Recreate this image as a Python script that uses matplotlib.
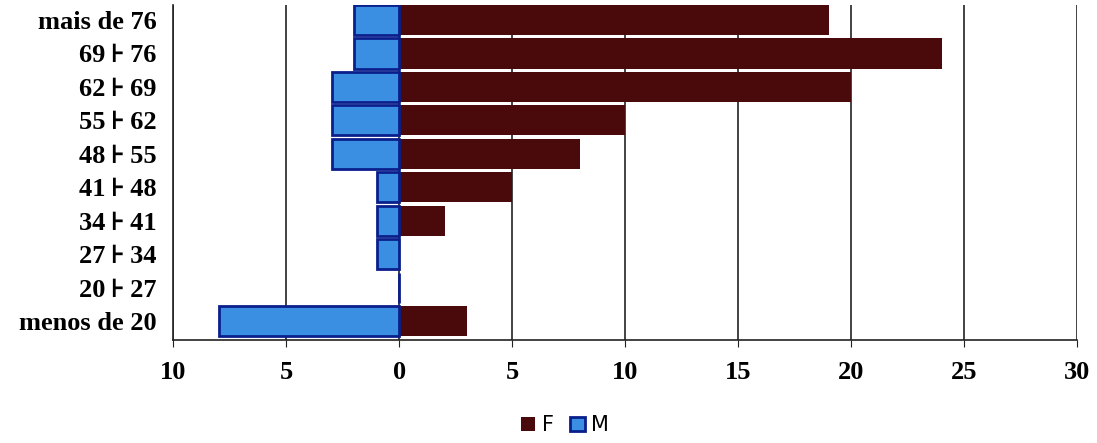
import numpy as np
import matplotlib.pyplot as plt

# Faixas etárias (de baixo para cima)
faixas = ["menos de 20", "20\u2009⊦\u200927", "27\u2009⊦\u200934", "34\u2009⊦\u200941",
          "41\u2009⊦\u200948", "48\u2009⊦\u200955", "55\u2009⊦\u200962",
          "62\u2009⊦\u200969", "69\u2009⊦\u200976", "mais de 76"]
feminino = [3, 0, 0, 2, 5, 8, 10, 20, 24, 19]
masculino = [8, 0, 1, 1, 1, 3, 3, 3, 2, 2]
xticks = [-10, -5, 0, 5, 10, 15, 20, 25, 30]

fonte = ["Liberation Serif", "DejaVu Sans"]

fig = plt.figure(figsize=(10.97, 4.43), dpi=100)
ax = fig.add_axes([0.158, 0.233, 0.824, 0.756])

y = np.arange(len(faixas))
ax.barh(y, feminino, height=0.9, color="#4a0a0c", label="F", zorder=3)
ax.barh(y, -np.array(masculino), height=0.9, color="#3a8fe3",
        edgecolor="#0a1f8c", linewidth=2, label="M", zorder=3)

ax.set_xlim(-10, 30)
ax.set_ylim(-0.55, 9.45)
ax.set_xticks(xticks)
ax.set_xticklabels([str(abs(v)) for v in xticks], fontfamily=fonte,
                   fontweight="bold", fontsize=19)
ax.set_yticks(y)
ax.set_yticklabels(faixas, fontfamily=fonte, fontweight="bold", fontsize=19)
ax.tick_params(axis="y", length=0, pad=12)
ax.tick_params(axis="x", length=5, direction="out", pad=10, color="#222222")

ax.grid(axis="x", color="#222222", linewidth=1.2, zorder=0)
for s in ["top", "right"]:
    ax.spines[s].set_visible(False)
ax.spines["left"].set_color("#222222")
ax.spines["bottom"].set_color("#222222")
ax.spines["left"].set_linewidth(1.2)
ax.spines["bottom"].set_linewidth(1.2)

fig.legend(loc="lower center", bbox_to_anchor=(0.515, -0.025), ncol=2,
           frameon=False, fontsize=15, handlelength=0.7, handleheight=0.7,
           columnspacing=0.8, handletextpad=0.3)

fig.savefig("out.png", dpi=100)
